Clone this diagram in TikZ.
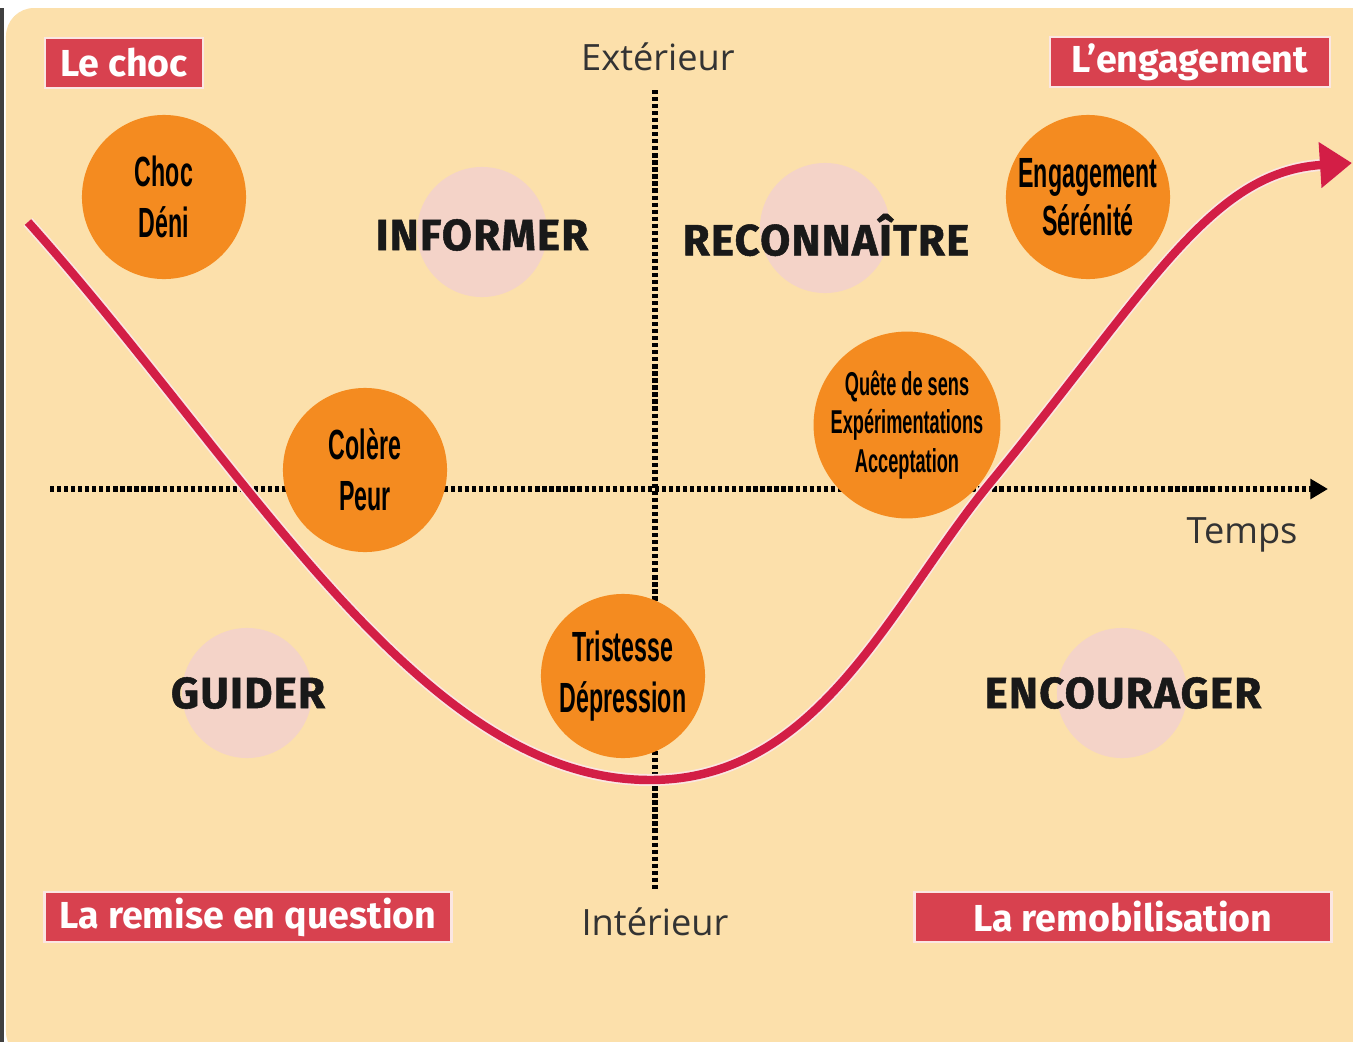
\documentclass[tikz,border=0pt]{standalone}
\usepackage{fontspec}
\setmainfont{Fira Sans}
\newfontfamily\condfont[FakeStretch=0.55]{Liberation Sans}
\newfontfamily\axisfont{Open Sans}
\usetikzlibrary{positioning, arrows.meta}

\definecolor{bgpeach}{HTML}{FCE0AB}
\definecolor{tagred}{HTML}{D8414F}
\definecolor{tagedge}{HTML}{FBE6E2}
\definecolor{bubblefill}{HTML}{F48B20}
\definecolor{curvered}{HTML}{D31E46}
\definecolor{halofill}{HTML}{F4D3C8}
\definecolor{axisgray}{HTML}{333333}

\begin{document}
\begin{tikzpicture}[
    x=0.01cm, y=-0.01cm,
    tag/.style={
        rectangle,
        draw=tagedge,
        line width=0.7pt,
        fill=tagred,
        text=white,
        minimum height=0.5cm,
        inner sep=0pt,
        font=\bfseries\fontsize{10.7}{13}\selectfont
    },
    bubble/.style={
        circle,
        fill=bubblefill,
        minimum size=1.64cm,
        inner sep=0pt,
        align=center,
        font=\condfont\bfseries\fontsize{12}{14.6}\selectfont
    },
    halo/.style={
        circle,
        fill=halofill,
        minimum size=1.3cm
    },
    quadrant/.style={
        text=black!90,
        font=\bfseries\fontsize{12.4}{15}\selectfont\addfontfeatures{LetterSpace=3,FakeBold=1.2}
    },
    axislabel/.style={
        text=axisgray,
        font=\axisfont\fontsize{10.3}{12}\selectfont
    },
    axis/.style={
        line width=1.5pt,
        dash pattern=on 1.2pt off 0.8pt
    }
]

% background
\useasboundingbox (0,0) rectangle (1353,1042);
\fill[white] (0,0) rectangle (1353,1042);
\fill[bgpeach, rounded corners=8pt] (6,8) rectangle (1380,1060);
\fill[black!75] (0,8) rectangle (4,1042);

% soft discs behind the quadrant words
\node[halo] (h1) at (482,232) {};
\node[halo] (h2) at (825,228) {};
\node[halo] (h3) at (247,693) {};
\node[halo] (h4) at (1122,693) {};

% axes
\coordinate (xstart) at (50,489);
\coordinate (xend) at (1328,489);
\coordinate (ytop) at (655,90);
\coordinate (ybot) at (655,890);
\draw[axis, -{Triangle[length=5pt,width=5.5pt]}] (xstart) -- (xend);
\draw[axis] (ytop) -- (ybot);

% the curve
\coordinate (cstart) at (28,222);
\coordinate (cbottom) at (650,780);
\coordinate (ccross) at (990,483);
\coordinate (cend) at (1352,163);
\draw[curvered, line width=2.4pt, -{Triangle[length=0.32cm,width=0.44cm]},
      preaction={draw=tagedge, line width=3.4pt}]
    (cstart) .. controls (250,470) and (420,780) .. (cbottom)
             .. controls (820,780) and (890,605) .. (ccross)
             .. controls (1150,288) and (1210,172) .. (cend);

% emotions
\node[bubble] (choc) at (164,197) {Choc\\Déni};
\node[bubble] (colere) at (365,470) {Colère\\Peur};
\node[bubble] (tristesse) at (623,676) {Tristesse\\Dépression};
\node[bubble, minimum size=1.81cm, font=\condfont\bfseries\fontsize{9.4}{11}\selectfont] (quete) at (907,425)
    {Quête de sens\\Expérimentations\\Acceptation};
\node[bubble, font=\condfont\bfseries\fontsize{12}{13.6}\selectfont] (engag) at (1088,197) {Engagement\\Sérénité};

% quadrant words
\node[quadrant] (informer) at (482,235) {INFORMER};
\node[quadrant] (reconnaitre) at (826,235) {RECONNAÎTRE};
\node[quadrant] (guider) at (248,693) {GUIDER};
\node[quadrant] (encourager) at (1123,693) {ENCOURAGER};

% axis labels
\node[axislabel] (exterieur) at (658,57) {Extérieur};
\node[axislabel] (interieur) at (655,922) {Intérieur};
\node[axislabel] (temps) at (1242,535) {Temps};

% phase tags
\node[tag, minimum width=1.58cm] (lechoc) at (124,63) {Le choc};
\node[tag, minimum width=2.80cm] (lengag) at (1190,62) {L’engagement};
\node[tag, minimum width=4.07cm] (remise) at (248,917) {La remise en question};
\node[tag, minimum width=4.17cm] (remob) at (1123,917) {La remobilisation};

\end{tikzpicture}
\end{document}
